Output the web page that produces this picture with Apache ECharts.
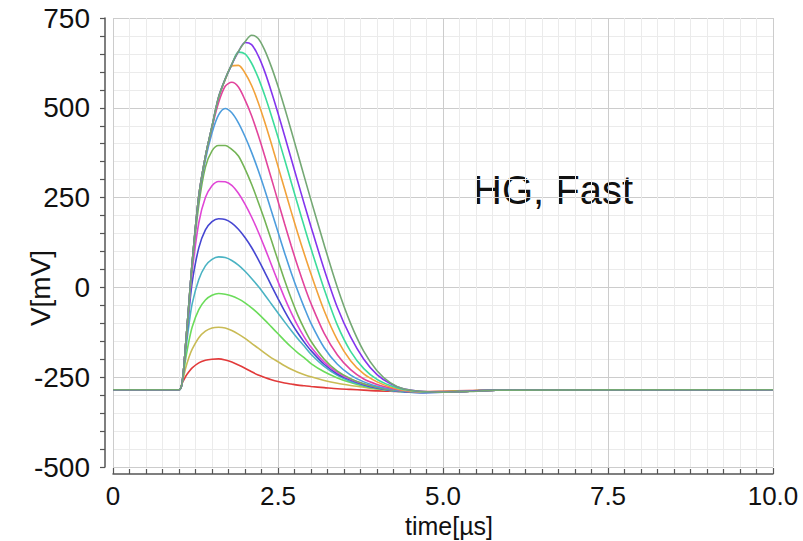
<!DOCTYPE html>
<html>
<head>
<meta charset="utf-8">
<script src="https://cdn.jsdelivr.net/npm/echarts@6/dist/echarts.min.js"></script>
<style>
html,body{margin:0;padding:0;background:#fff;}
#chart{width:803px;height:541px;}
</style>
</head>
<body>
<div id="chart"></div>
<script>
// time samples [µs]
const times = [0, 1.0, 1.05, 1.1, 1.15, 1.2, 1.3, 1.4, 1.5, 1.6, 1.7, 1.8, 1.9, 2.0, 2.1, 2.2, 2.3, 2.4, 2.5, 2.6, 2.7, 2.8, 2.9, 3.0, 3.2, 3.4, 3.6, 3.8, 4.0, 4.2, 4.4, 4.7, 5.0, 5.4, 5.8, 10.0];

// voltages [mV], one array per pulse amplitude (smallest to largest)
const v1  = [-285,-285,-266,-248,-235,-224,-210,-203,-200,-199,-202,-208,-216,-225,-235,-244,-251,-257,-262,-266,-269,-272,-274,-276,-279,-282,-284,-286,-288,-289,-290,-290,-289,-287,-285,-285];
const v2  = [-285,-285,-263,-225,-195,-172,-140,-122,-113,-111,-113,-120,-130,-142,-156,-169,-183,-196,-207,-218,-228,-236,-243,-249,-259,-267,-273,-278,-283,-287,-290,-291,-290,-288,-286,-285];
const v3  = [-285,-285,-262,-200,-150,-110,-62,-35,-22,-17,-19,-24,-32,-43,-57,-73,-91,-110,-129,-148,-166,-182,-196,-212,-235,-252,-265,-275,-282,-287,-290,-292,-291,-288,-286,-285];
const v4  = [-285,-285,-262,-178,-105,-45,22,60,78,85,83,75,62,45,25,3,-21,-46,-71,-96,-120,-143,-164,-186,-220,-245,-262,-273,-281,-287,-291,-293,-292,-289,-286,-285];
const v5  = [-285,-285,-262,-165,-70,15,110,160,183,191,189,179,162,139,111,78,42,5,-31,-66,-98,-127,-153,-176,-214,-241,-258,-271,-280,-286,-290,-293,-292,-289,-286,-285];
const v6  = [-285,-285,-262,-162,-55,45,180,250,283,295,294,284,262,232,196,155,110,63,16,-29,-70,-107,-139,-166,-208,-237,-256,-269,-278,-285,-289,-292,-292,-289,-286,-285];
const v7  = [-285,-285,-262,-160,-48,62,230,335,380,395,395,384,366,330,287,238,186,131,75,20,-31,-77,-116,-150,-200,-233,-254,-268,-278,-285,-289,-292,-292,-289,-286,-285];
const v8  = [-285,-285,-262,-160,-45,68,250,355,430,480,498,486,458,420,376,326,271,213,154,96,41,-10,-57,-100,-168,-214,-244,-263,-275,-283,-288,-292,-292,-289,-286,-285];
const v9  = [-285,-285,-262,-160,-45,70,255,365,445,515,560,571,558,522,478,424,365,303,240,177,116,58,4,-45,-128,-188,-229,-255,-270,-280,-287,-291,-292,-289,-286,-285];
const v10 = [-285,-285,-262,-160,-45,70,255,365,448,528,578,616,618,597,562,515,460,400,337,274,211,150,92,37,-65,-146,-204,-241,-263,-277,-286,-291,-292,-289,-286,-285];
const v11 = [-285,-285,-262,-160,-45,70,255,365,448,529,580,620,655,650,624,584,534,478,418,356,293,230,168,108,-5,-105,-178,-226,-256,-273,-284,-291,-292,-289,-286,-285];
const v12 = [-285,-285,-262,-160,-45,70,255,365,448,530,580,621,656,682,676,645,600,545,485,422,358,294,231,169,50,-56,-138,-200,-243,-268,-282,-290,-292,-289,-286,-285];
const v13 = [-285,-285,-262,-160,-45,70,255,365,448,530,580,622,657,684,702,693,660,614,560,500,437,372,307,243,118,0,-100,-178,-232,-265,-282,-290,-292,-290,-286,-285];

const curves = [v1, v2, v3, v4, v5, v6, v7, v8, v9, v10, v11, v12, v13];
const curveColors = ['#e23a3a','#c9bb55','#6bdc5a','#4bb3c3','#4646d2','#e046d6','#74b456','#4d9ddd','#e2449c','#f2a23a','#3ddc9c','#8435ee','#74a874'];

const xTickLabels = ['0', '2.5', '5.0', '7.5', '10.0'];
const yTickLabels = ['-500', '-250', '0', '250', '500', '750'];

const FONT = 'Liberation Sans, Arial, Helvetica, sans-serif';

const chart = echarts.init(document.getElementById('chart'), null, {renderer: 'svg'});

const series = curves.map((vals, i) => ({
  type: 'line',
  name: 'pulse ' + (i + 1),
  data: times.map((t, k) => [t, vals[k]]),
  showSymbol: false,
  smooth: 0.3,
  lineStyle: {width: 1.6, color: curveColors[i]},
  itemStyle: {color: curveColors[i]},
  z: 2 + i
}));

chart.setOption({
  backgroundColor: '#ffffff',
  animation: false,
  grid: {left: 113, right: 30, top: 18, bottom: 74, containLabel: false, outerBoundsMode: 'none'},
  xAxis: {
    type: 'value', min: 0, max: 10, interval: 2.5, offset: 7,
    name: 'time[µs]', nameLocation: 'middle', nameGap: 41, nameMoveOverlap: false,
    nameTextStyle: {fontSize: 25, lineHeight: 22, color: '#111', fontFamily: FONT, padding: [0, 0, 0, 12]},
    axisLine: {show: true, onZero: false, lineStyle: {color: '#555', width: 1.5}},
    axisTick: {show: true, inside: true, length: 6, lineStyle: {color: '#555', width: 1.2}},
    minorTick: {show: true, splitNumber: 10, length: 5, lineStyle: {color: '#555', width: 1.2}},
    splitLine: {show: true, lineStyle: {color: '#cccccc', width: 1}},
    minorSplitLine: {show: true, lineStyle: {color: '#ebebeb', width: 1}},
    axisLabel: {fontSize: 26, lineHeight: 22, color: '#111', fontFamily: FONT, margin: 11,
      formatter: v => xTickLabels[Math.round(v / 2.5)]}
  },
  yAxis: {
    type: 'value', min: -500, max: 750, interval: 250, offset: 8,
    axisLine: {show: true, onZero: false, lineStyle: {color: '#555', width: 1.5}},
    axisTick: {show: true, inside: false, length: 5, lineStyle: {color: '#555', width: 1.2}},
    minorTick: {show: true, splitNumber: 5, length: 5, lineStyle: {color: '#555', width: 1.2}},
    splitLine: {show: true, lineStyle: {color: '#cccccc', width: 1}},
    minorSplitLine: {show: true, lineStyle: {color: '#ebebeb', width: 1}},
    axisLabel: {fontSize: 28, color: '#111', fontFamily: FONT, margin: 15,
      formatter: v => yTickLabels[Math.round((v + 500) / 250)]}
  },
  graphic: [
    {type: 'text', x: 40, y: 288, rotation: Math.PI / 2,
      style: {text: 'V[mV]', fontSize: 28, fontFamily: FONT, fill: '#111', align: 'center', verticalAlign: 'middle'}},
    {type: 'text', x: 473, y: 190,
      style: {text: 'HG, Fast', fontSize: 40, fontFamily: FONT, fill: '#111', align: 'left', verticalAlign: 'middle'}}
  ],
  series: series
});
</script>
</body>
</html>
